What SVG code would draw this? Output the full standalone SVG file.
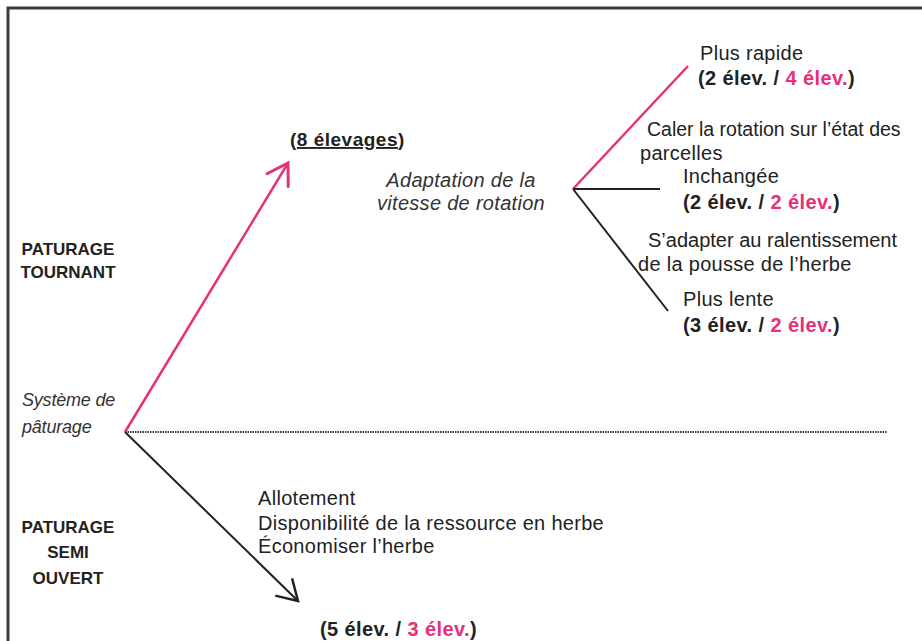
<svg xmlns="http://www.w3.org/2000/svg" width="922" height="641" viewBox="0 0 922 641">
<defs>
<style>
.t{font-family:"Liberation Sans",Arial,sans-serif;font-size:20px;letter-spacing:0.3px;fill:#222}
.b{font-weight:bold;letter-spacing:0.4px}
.h{font-size:17px;letter-spacing:0}
.s{font-size:18px;letter-spacing:-0.2px}
.i{font-style:italic;fill:#333}
.p{fill:#e6307a}
.pl{stroke:#e6307a;stroke-width:2.5;fill:none}
.bl{stroke:#222;stroke-width:2;fill:none}
</style>
<marker id="ap" markerWidth="14" markerHeight="14" refX="12" refY="7" orient="auto" markerUnits="userSpaceOnUse" viewBox="0 0 14 14" overflow="visible">
<path d="M-9,-6 L12,7 L-9,20" fill="none" stroke="#e6307a" stroke-width="3"/>
</marker>
<marker id="ab" markerWidth="14" markerHeight="14" refX="12" refY="7" orient="auto" markerUnits="userSpaceOnUse" viewBox="0 0 14 14" overflow="visible">
<path d="M-8,-5 L12,7 L-8,19" fill="none" stroke="#222" stroke-width="2.5"/>
</marker>
</defs>
<rect width="922" height="641" fill="#fff"/>
<path d="M8,641 V8 H922" fill="none" stroke="#3a3a3a" stroke-width="3"/>
<g id="connectors">
<line x1="125" y1="432" x2="887" y2="432" stroke="#333" stroke-width="2" stroke-dasharray="1.5 1"/>
<line class="pl" x1="125" y1="432" x2="288" y2="163" marker-end="url(#ap)"/>
<line class="bl" x1="125" y1="432" x2="298" y2="601" marker-end="url(#ab)"/>
<line class="pl" x1="573" y1="189" x2="688" y2="66"/>
<line class="bl" x1="573" y1="189" x2="660" y2="189"/>
<line class="bl" x1="573" y1="189" x2="668" y2="311"/>
</g>
<g id="systeme">
<text class="t i s" x="22" y="406">Système de</text>
<text class="t i s" x="22" y="433">pâturage</text>
</g>
<g id="tournant">
<text class="t b h" x="68" y="255" text-anchor="middle">PATURAGE</text>
<text class="t b h" x="68" y="278" text-anchor="middle">TOURNANT</text>
</g>
<g id="semi">
<text class="t b h" x="68" y="533" text-anchor="middle">PATURAGE</text>
<text class="t b h" x="68" y="558" text-anchor="middle">SEMI</text>
<text class="t b h" x="68" y="584" text-anchor="middle">OUVERT</text>
</g>
<g id="huit">
<text class="t b" x="290" y="146" style="font-size:19px;letter-spacing:0.5px">(<tspan text-decoration="underline">8 élevages</tspan>)</text>
</g>
<g id="adaptation">
<text class="t i" x="461" y="187" text-anchor="middle">Adaptation de la</text>
<text class="t i" x="461" y="210" text-anchor="middle">vitesse de rotation</text>
</g>
<g id="rapide">
<text class="t" x="700" y="60">Plus rapide</text>
<text class="t b" x="698" y="85">(2 élev. / <tspan class="p">4 élev.</tspan>)</text>
</g>
<g id="caler">
<text class="t" x="647" y="136" style="font-size:19.5px;letter-spacing:0">Caler la rotation sur l’état des</text>
<text class="t" x="640" y="160">parcelles</text>
</g>
<g id="inchangee">
<text class="t" x="683" y="183">Inchangée</text>
<text class="t b" x="683" y="209">(2 élev.  / <tspan class="p">2 élev.</tspan>)</text>
</g>
<g id="sadapter">
<text class="t" x="648" y="247" style="letter-spacing:0">S’adapter au ralentissement</text>
<text class="t" x="638" y="271">de la pousse de l’herbe</text>
</g>
<g id="lente">
<text class="t" x="683" y="306">Plus lente</text>
<text class="t b" x="683" y="332">(3 élev. / <tspan class="p">2 élev.</tspan>)</text>
</g>
<g id="semiTexts">
<text class="t" x="258" y="505">Allotement</text>
<text class="t" x="258" y="530">Disponibilité de la ressource en herbe</text>
<text class="t" x="258" y="553">Économiser l’herbe</text>
</g>
<g id="cinq">
<text class="t b" x="320" y="636">(5 élev. / <tspan class="p">3 élev.</tspan>)</text>
</g>
</svg>
